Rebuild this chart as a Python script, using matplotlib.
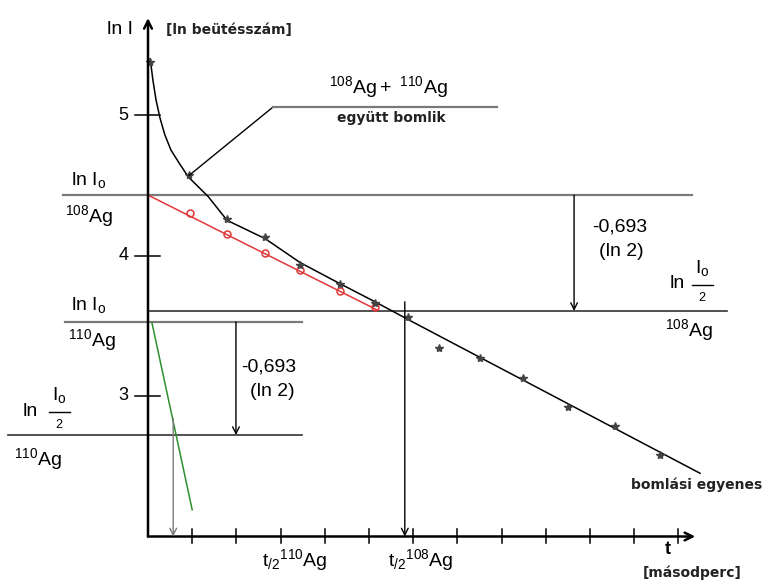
import matplotlib.pyplot as plt
import numpy as np

plt.rcParams['font.family'] = ['Liberation Sans', 'DejaVu Sans']
plt.rcParams['mathtext.fontset'] = 'custom'
plt.rcParams['mathtext.rm'] = 'Liberation Sans'
plt.rcParams['mathtext.it'] = 'Liberation Sans:italic'
plt.rcParams['mathtext.bf'] = 'Liberation Sans:bold'

NARROW = ['Liberation Sans Narrow', 'DejaVu Sans']

# measured points, 108Ag + 110Ag together (t in tick units, ln I)
t_meas = [0.05, 0.93, 1.79, 2.65, 3.44, 4.34, 5.14, 5.88, 6.58, 7.51, 8.48, 9.50, 10.57, 11.58]
lnI_meas = [5.38, 4.57, 4.26, 4.13, 3.93, 3.80, 3.66, 3.56, 3.34, 3.27, 3.13, 2.92, 2.79, 2.58]

# hand drawn curve through them
t_curve = [0.05, 0.11, 0.18, 0.27, 0.38, 0.52, 0.70, 0.91, 1.36, 1.79, 2.65, 3.44, 4.34, 5.14, 5.91, 12.49]
lnI_curve = [5.40, 5.25, 5.11, 4.98, 4.86, 4.75, 4.66, 4.56, 4.42, 4.25, 4.12, 3.95, 3.80, 3.67, 3.54, 2.45]

# 108Ag alone
t_108 = [0.95, 1.79, 2.65, 3.44, 4.34, 5.14]
lnI_108 = [4.30, 4.15, 4.02, 3.90, 3.75, 3.63]
t_108_line = [0.0, 5.20]
lnI_108_line = [4.43, 3.61]

# 110Ag alone
t_110_line = [0.09, 1.00]
lnI_110_line = [3.52, 2.19]

lnI0_108, lnI0_108_half = 4.43, 3.605
lnI0_110, lnI0_110_half = 3.527, 2.722
t_half_108, t_half_110 = 5.81, 0.57

y_ticks = [3, 4, 5]
x_ticks = list(range(1, 13))

GRAY = '#7a7a7a'

fig = plt.figure(figsize=(7.67, 5.83), dpi=100)
ax = fig.add_axes([0, 0, 1, 1])
ax.set_xlim(-148 / 44.2, (767 - 148) / 44.2)
ax.set_ylim(5 - 468 / 140.5, 5 + 115 / 140.5)
ax.axis('off')


def px(x, y):
    # pixel position in the picture -> data coords
    return (x - 148) / 44.2, 5 - (y - 115) / 140.5


def arrow(x0, y0, x1, y1, color='black', lw=1.0, ms=12):
    ax.annotate('', xy=(x1, y1), xytext=(x0, y0),
                arrowprops=dict(arrowstyle='->', color=color, lw=lw,
                                mutation_scale=ms, shrinkA=0, shrinkB=0))


# axes
arrow(0, 2.0, 0, 5.69, lw=1.8, ms=14)
arrow(0, 2.0, 12.38, 2.0, lw=1.8, ms=14)
for v in y_ticks:
    ax.plot([-0.3, 0.28], [v, v], color='black', lw=1.1)
    ax.text(-0.55, v, str(v), fontsize=13, ha='center', va='center')
for k in x_ticks:
    ax.plot([k, k], [1.955, 2.05], color='black', lw=1.1)

# reference lines
ax.plot([-1.92, 12.31], [lnI0_108, lnI0_108], color=GRAY, lw=1.6)
ax.plot([0, 13.1], [lnI0_108_half, lnI0_108_half], color='#333333', lw=1.2)
ax.plot([-1.88, 3.48], [lnI0_110, lnI0_110], color=GRAY, lw=1.6)
ax.plot([-3.17, 3.48], [lnI0_110_half, lnI0_110_half], color='#333333', lw=1.2)

# ln2 steps
arrow(9.64, lnI0_108, 9.64, lnI0_108_half, lw=1.0)
arrow(1.99, lnI0_110, 1.99, lnI0_110_half, lw=1.0)

# half-life drops
arrow(t_half_108, 3.67, t_half_108, 2.0, lw=1.0)
arrow(t_half_110, 2.84, t_half_110, 2.0, color=GRAY, lw=1.0)

# data
ax.plot(t_108_line, lnI_108_line, color='#e03838', lw=1.1)
ax.plot(t_108, lnI_108, 'o', mfc='none', mec='#e03838', ms=5, mew=1.1)
ax.plot(t_110_line, lnI_110_line, color='#2f8f2f', lw=1.1)
ax.plot(t_curve, lnI_curve, color='black', lw=1.1)
ax.plot(t_meas, lnI_meas, '*', color='#444444', ms=6)

# pointer to "108Ag + 110Ag"
ax.plot([t_meas[1], 2.83], [lnI_meas[1], 5.057], color='black', lw=1.0)
ax.plot([2.83, 7.90], [5.057, 5.057], color=GRAY, lw=1.6)
ax.text(*px(388, 87), r'$\mathregular{^{108}Ag + \ ^{110}Ag}$', fontsize=14,
        ha='center', va='center')
ax.text(*px(391, 118), 'együtt bomlik', fontsize=10, fontweight='bold',
        family=NARROW, ha='center', va='center', color='#222222')

# axis labels
ax.text(*px(120, 30), 'ln I', fontsize=14, ha='center', va='center')
ax.text(*px(229, 30), '[ln beütésszám]', fontsize=10, fontweight='bold',
        family=NARROW, ha='center', va='center', color='#222222')
ax.text(*px(668, 550), 't', fontsize=13, fontweight='bold', ha='center', va='center')
ax.text(*px(692, 573), '[másodperc]', fontsize=10, fontweight='bold',
        family=NARROW, ha='center', va='center', color='#222222')
ax.text(*px(697, 485), 'bomlási egyenes', fontsize=10, fontweight='bold',
        family=NARROW, ha='center', va='center', color='#222222')
ax.text(*px(295, 560), r'$\mathregular{t_{/2}{}^{110}Ag}$', fontsize=14,
        ha='center', va='center')
ax.text(*px(421, 560), r'$\mathregular{t_{/2}{}^{108}Ag}$', fontsize=14,
        ha='center', va='center')

# left labels
ax.text(*px(89, 180), r'$\mathregular{ln\ I_o}$', fontsize=14, ha='center', va='center')
ax.text(*px(89, 216), r'$\mathregular{^{108}Ag}$', fontsize=14, ha='center', va='center')
ax.text(*px(89, 305), r'$\mathregular{ln\ I_o}$', fontsize=14, ha='center', va='center')
ax.text(*px(92, 340), r'$\mathregular{^{110}Ag}$', fontsize=14, ha='center', va='center')
ax.text(*px(38, 459), r'$\mathregular{^{110}Ag}$', fontsize=14, ha='center', va='center')
ax.text(*px(689, 330), r'$\mathregular{^{108}Ag}$', fontsize=14, ha='center', va='center')


def half_label(xl, xf, yl):
    # "ln Io/2" drawn by hand: ln, Io over a short bar, small 2
    ax.text(*px(xl, yl), 'ln', fontsize=14, ha='center', va='center')
    ax.text(*px(xf, yl - 16), r'$\mathregular{I_o}$', fontsize=14, ha='center', va='center')
    x0, y0 = px(xf - 10, yl + 1)
    x1, _ = px(xf + 11, yl + 1)
    ax.plot([x0, x1], [y0, y0], color='black', lw=1.0)
    ax.text(*px(xf, yl + 14), '2', fontsize=9, ha='center', va='center')


half_label(30, 59, 411)
half_label(677, 702, 284)

# ln 2 texts
ax.text(*px(620, 227), '-0,693', fontsize=14, ha='center', va='center')
ax.text(*px(621, 252), '(ln 2)', fontsize=14, ha='center', va='center')
ax.text(*px(269, 367), '-0,693', fontsize=14, ha='center', va='center')
ax.text(*px(272, 392), '(ln 2)', fontsize=14, ha='center', va='center')

fig.savefig('out.png', dpi=100)
